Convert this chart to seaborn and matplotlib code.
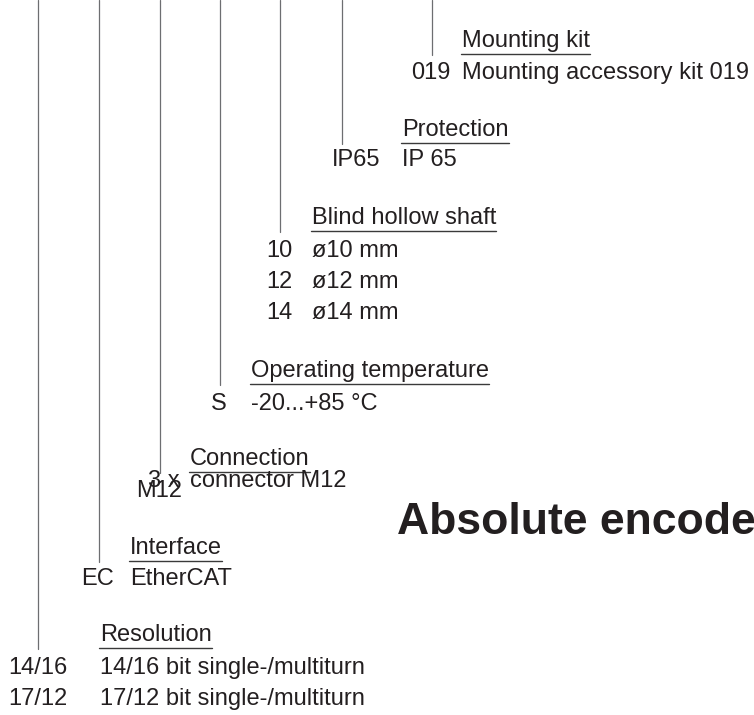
import seaborn as sns
import matplotlib.pyplot as plt
import pandas as pd

# ordering key data
groups = ["Mounting kit", "Protection", "Blind hollow shaft", "Operating temperature",
          "Connection", "Interface", "Resolution"]
codes = [["019"], ["IP65"], ["10", "12", "14"], ["S"], ["3 x\nM12"], ["EC"], ["14/16", "17/12"]]
descs = [["Mounting accessory kit 019"], ["IP 65"], ["ø10 mm", "ø12 mm", "ø14 mm"],
         ["-20...+85 °C"], ["connector M12"], ["EtherCAT"],
         ["14/16 bit single-/multiturn", "17/12 bit single-/multiturn"]]
title = "Absolute encoders"

# layout (pixels)
line_x = [432, 342, 280, 220, 160, 99, 38]
header_x = [462, 402, 312, 251, 190, 130, 100]
underline_y = [54, 143, 231, 384, 472, 561, 648]
code_right = [450, 380, 293, 227, 180, 114, 68]
first_gap = [25, 23, 26, 26, 15, 24, 26]
row_step = 31
wrap_gap = 10

sns.set_theme(style="white")
plt.rcParams["font.family"] = ["Liberation Sans", "DejaVu Sans"]
txt_color = "#231f20"
line_color = "#6d6e71"
fs = 17

fig = plt.figure(figsize=(7.54, 7.15), dpi=100)
ax = fig.add_axes([0, 0, 1, 1])
ax.set_xlim(0, 754)
ax.set_ylim(715, 0)
ax.axis("off")

# leader lines
lines = pd.DataFrame({
    "x": [x for x in line_x for _ in range(2)],
    "y": [v for uy in underline_y for v in (0, uy + 1)],
    "g": [g for g in groups for _ in range(2)],
})
sns.lineplot(data=lines, x="x", y="y", units="g", estimator=None, sort=False,
             color=line_color, linewidth=0.9, ax=ax, legend=False)
ax.set_xlim(0, 754)
ax.set_ylim(715, 0)
ax.axis("off")

renderer = fig.canvas.get_renderer()
for i, g in enumerate(groups):
    uy = underline_y[i]
    h = ax.text(header_x[i], uy - 7, g, fontsize=fs, color=txt_color, va="baseline", ha="left")
    w = h.get_window_extent(renderer).width
    ax.plot([header_x[i] - 1, header_x[i] + w], [uy, uy], color="#3a3a3a", linewidth=1.0)
    for j, (c, d) in enumerate(zip(codes[i], descs[i])):
        by = uy + first_gap[i] + j * row_step
        ax.text(header_x[i], by, d, fontsize=fs, color=txt_color, va="baseline", ha="left")
        for k, part in enumerate(c.split("\n")):
            ax.text(code_right[i] + 2 * k, by + k * wrap_gap, part, fontsize=fs, color=txt_color,
                    va="baseline", ha="right")

ax.text(397, 534, title, fontsize=32, fontweight="bold", color=txt_color,
        va="baseline", ha="left")

fig.savefig("out.png", dpi=100)
